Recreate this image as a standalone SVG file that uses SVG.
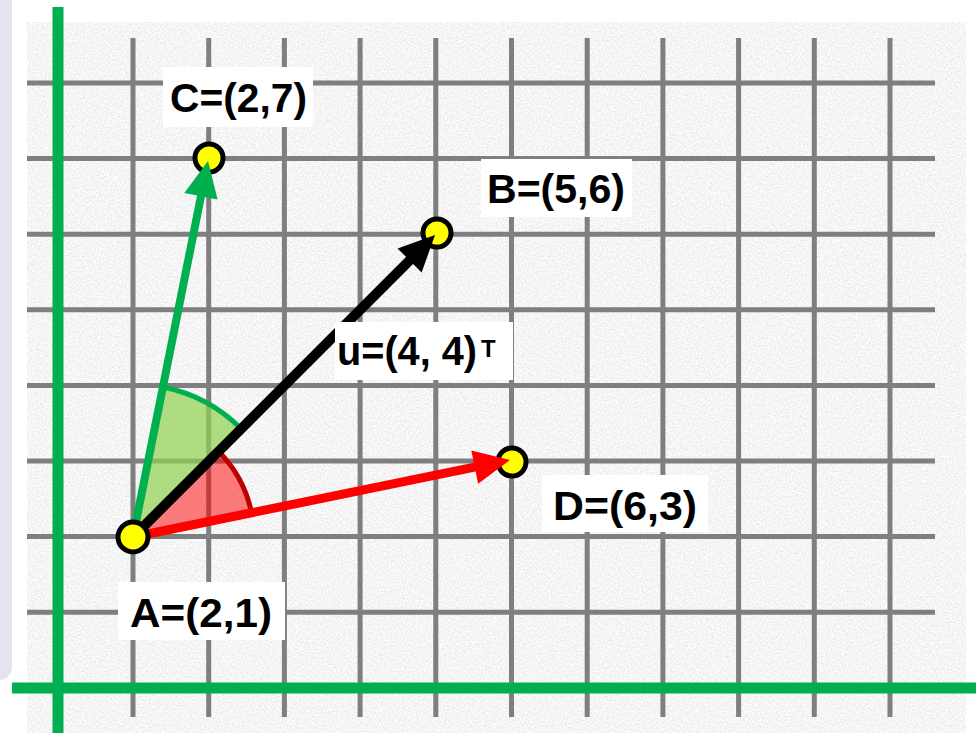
<svg xmlns="http://www.w3.org/2000/svg" width="976" height="733" viewBox="0 0 976 733">
<defs>
<filter id="noise" x="0" y="0" width="100%" height="100%" filterUnits="objectBoundingBox">
<feTurbulence type="fractalNoise" baseFrequency="0.55" numOctaves="3" seed="7" result="n"/>
<feColorMatrix in="n" type="matrix" values="0.35 0 0 0 0.74  0.35 0 0 0 0.74  0.35 0 0 0 0.74  0 0 0 0 1"/>
</filter>
<marker id="ahBlack" markerUnits="userSpaceOnUse" markerWidth="40" markerHeight="40" viewBox="0 0 40 40" refX="18" refY="20" orient="auto"><path d="M2,3 L38,20 L2,37 Z" fill="#000"/></marker>
<marker id="ahGreen" markerUnits="userSpaceOnUse" markerWidth="40" markerHeight="40" viewBox="0 0 40 40" refX="18" refY="20" orient="auto"><path d="M2,3 L38,20 L2,37 Z" fill="#00b050"/></marker>
<marker id="ahRed" markerUnits="userSpaceOnUse" markerWidth="40" markerHeight="40" viewBox="0 0 40 40" refX="18" refY="20" orient="auto"><path d="M2,3 L38,20 L2,37 Z" fill="#ff0000"/></marker>
</defs>
<style>
.grid line{stroke:#7f7f7f;stroke-width:5}
.axis{stroke:#00b050;stroke-width:11}
.pt{fill:#ffff00;stroke:#000;stroke-width:5}
.lblbox{fill:#fff}
.lbl{font-family:"Liberation Sans",Arial,sans-serif;font-weight:bold;font-size:40px;fill:#000}
.vec{fill:none}
</style>
<rect x="0" y="0" width="976" height="733" fill="#fff"/>
<rect x="-30" y="-30" width="42" height="710" rx="13" fill="#e6e2ef"/>
<rect x="27" y="22" width="939" height="711" fill="#ececec" filter="url(#noise)"/>
<g class="grid">
<line x1="133" y1="38" x2="133" y2="717"/>
<line x1="208.7" y1="38" x2="208.7" y2="717"/>
<line x1="284.4" y1="38" x2="284.4" y2="717"/>
<line x1="360.1" y1="38" x2="360.1" y2="717"/>
<line x1="435.8" y1="38" x2="435.8" y2="717"/>
<line x1="511.5" y1="38" x2="511.5" y2="717"/>
<line x1="587.2" y1="38" x2="587.2" y2="717"/>
<line x1="662.9" y1="38" x2="662.9" y2="717"/>
<line x1="738.6" y1="38" x2="738.6" y2="717"/>
<line x1="814.3" y1="38" x2="814.3" y2="717"/>
<line x1="890" y1="38" x2="890" y2="717"/>
<line x1="27" y1="83" x2="935" y2="83"/>
<line x1="27" y1="158.6" x2="935" y2="158.6"/>
<line x1="27" y1="234.2" x2="935" y2="234.2"/>
<line x1="27" y1="309.8" x2="935" y2="309.8"/>
<line x1="27" y1="385.4" x2="935" y2="385.4"/>
<line x1="27" y1="461" x2="935" y2="461"/>
<line x1="27" y1="536.6" x2="935" y2="536.6"/>
<line x1="27" y1="612.2" x2="935" y2="612.2"/>
</g>
<g id="axes">
<line class="axis" x1="58" y1="7" x2="58" y2="733"/>
<line class="axis" x1="12" y1="688" x2="976" y2="688"/>
</g>
<g id="angles">
<path d="M133,537 L163.1,387 A153,153 0 0 1 241.2,428.8 Z" fill="#92d050" fill-opacity="0.7"/>
<path d="M163.1,387 A153,153 0 0 1 241.2,428.8" fill="none" stroke="#00b050" stroke-width="5"/>
<path d="M133,537 L218.6,451.4 A121,121 0 0 1 251.6,513.1 Z" fill="#ff0000" fill-opacity="0.5"/>
<path d="M218.6,451.4 A121,121 0 0 1 251.6,513.1" fill="none" stroke="#c00000" stroke-width="5"/>
</g>
<g id="node-C"><circle class="pt" cx="209" cy="158" r="14"/></g>
<g id="node-B"><circle class="pt" cx="437" cy="233" r="14"/></g>
<g id="node-D"><circle class="pt" cx="512" cy="462" r="14"/></g>
<g id="connectors">
<line class="vec" x1="133" y1="537" x2="204.1" y2="180.6" stroke="#00b050" stroke-width="8" marker-end="url(#ahGreen)"/>
<line class="vec" x1="133" y1="537" x2="420.9" y2="249.1" stroke="#000" stroke-width="10" marker-end="url(#ahBlack)"/>
<line class="vec" x1="133" y1="537" x2="490.4" y2="463.9" stroke="#ff0000" stroke-width="9" marker-end="url(#ahRed)"/>
</g>
<g id="node-A"><circle class="pt" cx="133" cy="537" r="15"/></g>
<g id="label-C"><rect class="lblbox" x="163" y="67" width="150" height="60"/><text class="lbl" x="170" y="112" textLength="137" lengthAdjust="spacingAndGlyphs">C=(2,7)</text></g>
<g id="label-B"><rect class="lblbox" x="481" y="159" width="151" height="58"/><text class="lbl" x="487" y="203" textLength="138" lengthAdjust="spacingAndGlyphs">B=(5,6)</text></g>
<g id="label-u"><rect class="lblbox" x="335" y="322" width="178" height="58"/><text class="lbl" x="337" y="365" textLength="140" lengthAdjust="spacingAndGlyphs">u=(4, 4)</text><text class="lbl" x="481" y="357" style="font-size:24px">T</text></g>
<g id="label-D"><rect class="lblbox" x="542" y="475" width="166" height="57"/><text class="lbl" x="553" y="520" textLength="144" lengthAdjust="spacingAndGlyphs">D=(6,3)</text></g>
<g id="label-A"><rect class="lblbox" x="118" y="582" width="167" height="58"/><text class="lbl" x="130" y="627" textLength="142" lengthAdjust="spacingAndGlyphs">A=(2,1)</text></g>
</svg>
